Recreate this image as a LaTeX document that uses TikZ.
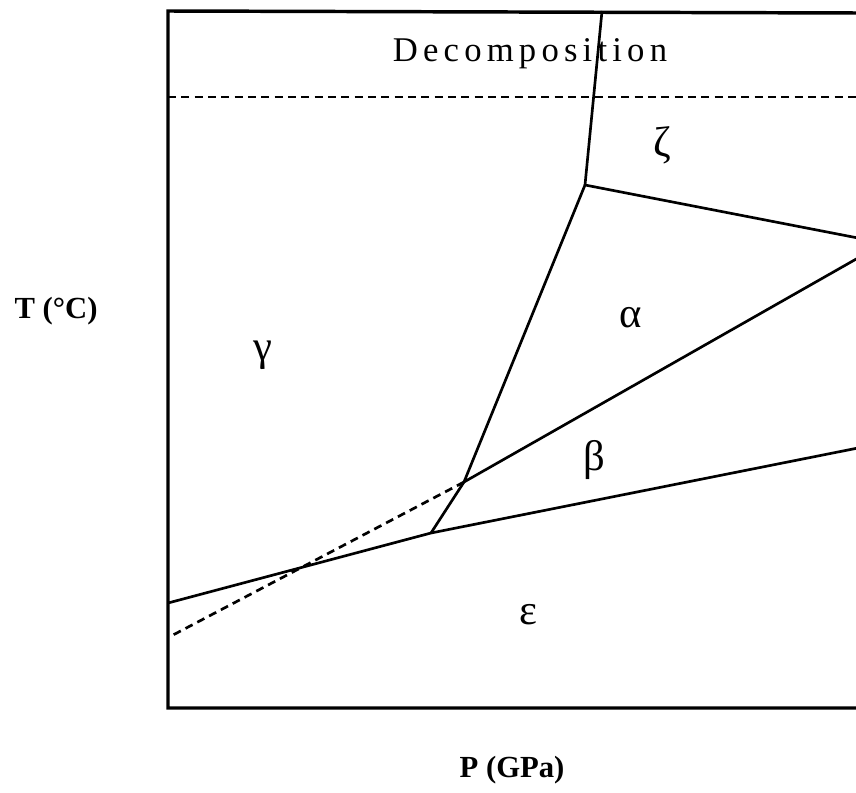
\documentclass[tikz,border=0pt]{standalone}
\usepackage{fontspec}
\setmainfont{Liberation Serif}
\begin{document}
\begin{tikzpicture}[x=0.75pt,y=-0.75pt,
  frame/.style={line width=2.6pt},
  bound/.style={line width=2.0pt},
  dashbound/.style={line width=2.0pt,dash pattern=on 6pt off 4pt},
  phase/.style={font=\fontsize{32}{34}\selectfont},
  axlabel/.style={font=\fontsize{23}{25}\selectfont\bfseries}]
\useasboundingbox (0,0) rectangle (856,792);
% frame
\coordinate (TL) at (168,11);
\coordinate (TR) at (858,13);
\coordinate (BL) at (168,708);
\coordinate (BR) at (858,708);
\draw[frame] (TR) -- (TL) -- (BL) -- (BR);
% decomposition boundary
\coordinate (DL) at (168,97);
\coordinate (DR) at (858,97);
\draw[dashbound] (DL) -- (DR);
% points
\coordinate (Z0) at (602,11);
\coordinate (A) at (585,185);
\coordinate (AR) at (858,238);
\coordinate (B) at (464,482);
\coordinate (BR2) at (858,258);
\coordinate (C) at (431,533);
\coordinate (L0) at (168,603);
\coordinate (CR) at (858,448);
\coordinate (DE) at (173,635);
\draw[bound] (Z0) -- (A);
\draw[bound] (A) -- (AR);
\draw[bound] (A) -- (B) -- (C);
\draw[bound] (B) -- (BR2);
\draw[bound] (L0) -- (C) -- (CR);
\draw[dashbound] (B) -- (DE);
% labels
\node[font=\fontsize{26}{28}\selectfont\addfontfeature{LetterSpace=15}] (dec) at (530,54) {Decomposition};
\node[phase] (zeta) at (662,145) {ζ};
\node[phase] (alpha) at (631,318) {α};
\node[phase] (gamma) at (263,355) {γ};
\node[phase] (beta) at (594,460) {β};
\node[phase] (eps) at (528,615) {ε};
\node[axlabel] (T) at (56,311) {T (°C)};
\node[axlabel] (P) at (512,770) {P (GPa)};
\end{tikzpicture}
\end{document}
